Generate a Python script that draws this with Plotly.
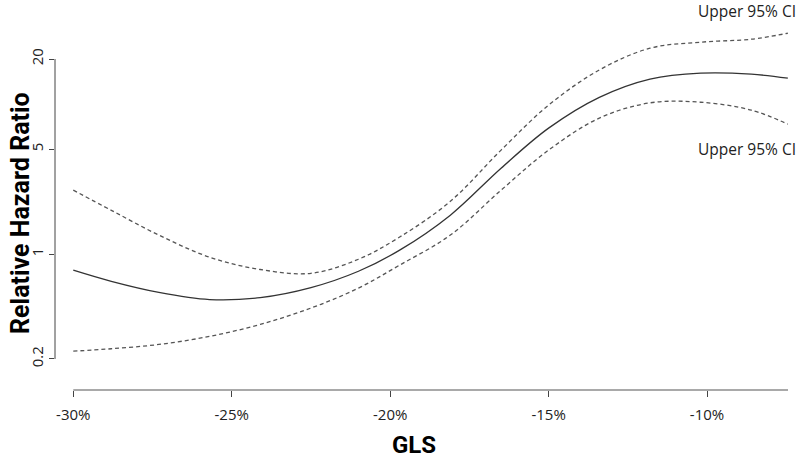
import plotly.graph_objects as go

# GLS (%) positions along the curves
gls = [-30.0, -28.8, -27.3, -25.7, -24.1, -22.5, -21.0, -19.7, -18.1, -16.5, -15.0, -13.4, -11.8, -10.2, -8.6, -7.45]
# Relative hazard ratio estimate
hr = [0.782, 0.659, 0.556, 0.498, 0.513, 0.598, 0.769, 1.063, 1.82, 3.74, 6.92, 11.1, 14.7, 16.1, 15.85, 14.9]
# Upper 95% CI
upper = [2.67, 1.96, 1.34, 0.955, 0.79, 0.745, 0.925, 1.30, 2.25, 4.94, 9.85, 16.9, 23.6, 25.9, 27.1, 29.7]
# Lower 95% CI
lower = [0.2256, 0.234, 0.250, 0.283, 0.340, 0.437, 0.594, 0.845, 1.34, 2.67, 4.94, 8.07, 10.2, 10.3, 9.12, 7.36]

x_ticks = [-30, -25, -20, -15, -10]
x_ticklabels = ["-30%", "-25%", "-20%", "-15%", "-10%"]
y_ticks = [0.2, 1, 5, 20]
y_ticklabels = ["0.2", "1", "5", "20"]

fig = go.Figure()
fig.add_trace(go.Scatter(x=gls, y=upper, mode="lines", line=dict(color="#555555", width=1.3, dash="4px,3px", shape="spline", smoothing=1.0), showlegend=False))
fig.add_trace(go.Scatter(x=gls, y=hr, mode="lines", line=dict(color="#333333", width=1.3, shape="spline", smoothing=1.0), showlegend=False))
fig.add_trace(go.Scatter(x=gls, y=lower, mode="lines", line=dict(color="#555555", width=1.3, dash="4px,3px", shape="spline", smoothing=1.0), showlegend=False))

tickfont = dict(family="Open Sans, Liberation Sans, sans-serif", size=15, color="#222222")

fig.update_layout(
    width=800, height=461,
    margin=dict(l=55, r=12, t=10, b=71),
    paper_bgcolor="white", plot_bgcolor="white",
    xaxis=dict(range=[-30.577, -7.445], tickvals=x_ticks, ticktext=x_ticklabels,
               ticks="outside", ticklen=6, tickcolor="#444444", tickwidth=1,
               showgrid=False, zeroline=False, showline=False, tickfont=tickfont,
               ticklabelstandoff=5),
    yaxis=dict(type="log", range=[-0.9057, 1.6277], tickvals=y_ticks, ticktext=y_ticklabels,
               ticks="outside", ticklen=5, tickcolor="#444444", tickwidth=1,
               showgrid=False, zeroline=False, showline=False, tickfont=tickfont,
               tickangle=-90),
    shapes=[
        dict(type="line", xref="paper", yref="y", x0=0, x1=0, y0=0.2, y1=20,
             line=dict(color="#444444", width=1)),
        dict(type="line", xref="x", yref="paper", x0=-30, x1=-7.445, y0=0, y1=0,
             line=dict(color="#555555", width=1.2)),
    ],
    annotations=[
        dict(text="Upper 95% CI", xref="paper", yref="paper", x=1.0, y=1.0, xanchor="right", yanchor="middle",
             xshift=10, yshift=-1, showarrow=False,
             font=dict(family="Open Sans, Liberation Sans, sans-serif", size=15.5, color="#222222")),
        dict(text="Upper 95% CI", xref="paper", yref="y", x=1.0, y=0.699, xanchor="right", yanchor="middle",
             xshift=10, yshift=0, showarrow=False,
             font=dict(family="Open Sans, Liberation Sans, sans-serif", size=15.5, color="#222222")),
        dict(text="<b>Relative Hazard Ratio</b>", xref="paper", yref="paper", x=0, y=0.5, xanchor="center", yanchor="middle",
             xshift=-35, yshift=-13, textangle=-90, showarrow=False,
             font=dict(family="Roboto, Open Sans, sans-serif", size=25, color="#000000")),
        dict(text="<b>GLS</b>", xref="paper", yref="paper", x=0.49, y=0, xanchor="center", yanchor="middle",
             yshift=-55, showarrow=False,
             font=dict(family="Roboto, Open Sans, sans-serif", size=24, color="#000000")),
    ],
)

fig.write_html("out.html", config={"displayModeBar": False},
               post_script="document.body.style.margin='0';document.body.style.overflow='hidden';")
